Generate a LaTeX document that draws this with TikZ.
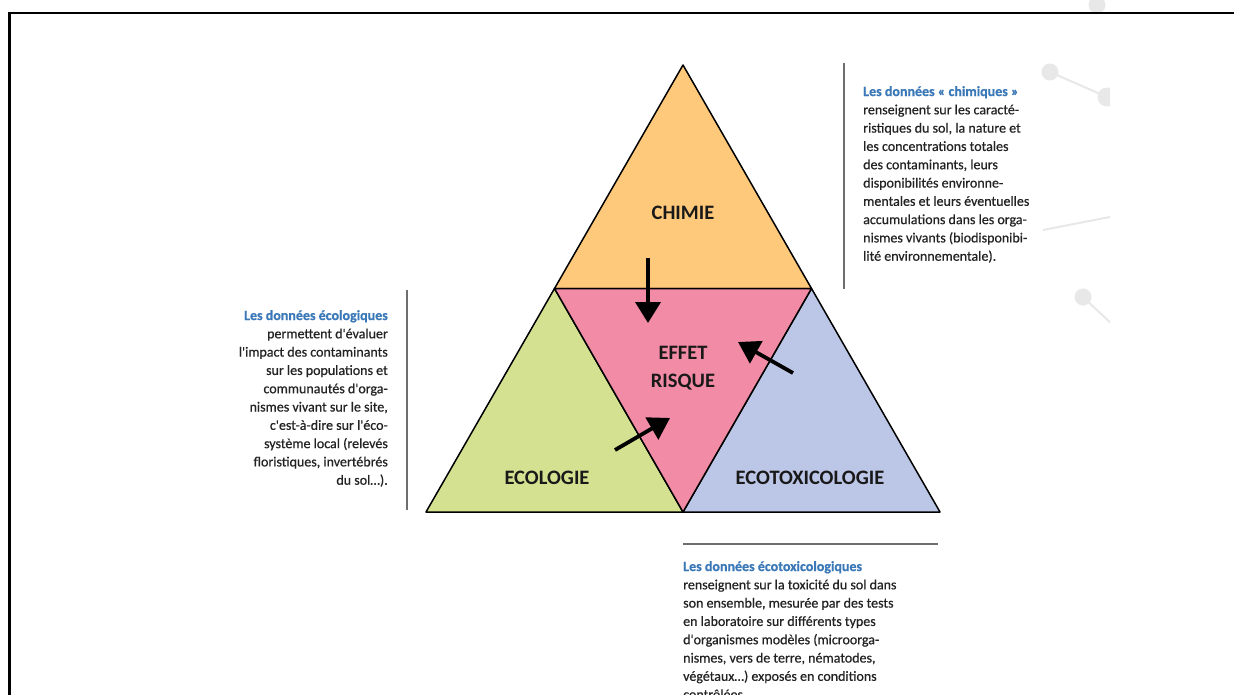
\documentclass[tikz,border=0pt]{standalone}
\usepackage{fontspec}
\setmainfont{Carlito}
\newfontfamily\corpsfont[FakeBold=0.6]{Carlito}
\usetikzlibrary{arrows.meta,positioning}
\definecolor{chimie}{RGB}{255,201,123}
\definecolor{effet}{RGB}{242,139,166}
\definecolor{ecologie}{RGB}{211,225,144}
\definecolor{ecotox}{RGB}{188,198,230}
\definecolor{titre}{RGB}{58,120,184}
\definecolor{corps}{RGB}{35,35,35}
\definecolor{filet}{RGB}{110,110,110}
\definecolor{deco}{RGB}{232,232,232}
\newcommand\entete[1]{{\color{titre}\bfseries #1}}
\tikzset{
    zone/.style={draw=black, line width=1.5pt, line join=round},
    zonelabel/.style={font=\bfseries\fontsize{20.5}{28.5}\selectfont, text=black!90, align=center, inner sep=0pt},
    fleche/.style={line width=3.8pt, -{Triangle[length=21pt,width=25pt]}},
    bloc/.style={font=\corpsfont\fontsize{14}{18.3}\selectfont, text=corps, inner sep=0pt},
    sep/.style={draw=filet, line width=2.4pt},
    decotrait/.style={draw=deco, line width=2pt}
}
\begin{document}
\begin{tikzpicture}[x=1pt,y=-1pt]
    \useasboundingbox (0,0) rectangle (1234,695);
    \fill[white] (0,0) rectangle (1234,695);

    % decor en fond
    \begin{scope}
        \clip (0,0) rectangle (1110,695);
        \draw[decotrait] (1050,72) -- (1107,97);
        \draw[decotrait] (1043,230) -- (1115,216);
        \draw[decotrait] (1083,297) -- (1115,327);
        \fill[deco] (1050,72) circle (8.5);
        \fill[deco] (1107,97) circle (9.5);
        \fill[deco] (1083,297) circle (8.5);
        \fill[deco] (1097,5) circle (8.5);
    \end{scope}

    % cadre
    \draw[line width=2.5pt] (9.5,700) -- (9.5,13) -- (1240,13);

    % sommets
    \coordinate (apex) at (683,65);
    \coordinate (bl) at (426,512);
    \coordinate (br) at (940,512);
    \coordinate (ml) at (554.5,288.5);
    \coordinate (mr) at (811.5,288.5);
    \coordinate (mb) at (683,512);

    \filldraw[zone, fill=chimie] (apex) -- (ml) -- (mr) -- cycle;
    \filldraw[zone, fill=ecologie] (ml) -- (bl) -- (mb) -- cycle;
    \filldraw[zone, fill=ecotox] (mr) -- (mb) -- (br) -- cycle;
    \filldraw[zone, fill=effet] (ml) -- (mr) -- (mb) -- cycle;

    \node[zonelabel] (chim) at (683,213) {CHIMIE};
    \node[zonelabel] (risque) at (683,368) {EFFET\\RISQUE};
    \node[zonelabel] (ecol) at (547,478) {ECOLOGIE};
    \node[zonelabel] (tox) at (810,478) {ECOTOXICOLOGIE};

    % fleches vers le centre
    \coordinate (chimqueue) at (648,258);
    \coordinate (chimtete) at (648,323);
    \coordinate (toxqueue) at (793,373);
    \coordinate (toxtete) at (738,342);
    \coordinate (ecolqueue) at (615,450);
    \coordinate (ecoltete) at (670,418);
    \draw[fleche] (chimqueue) -- (chimtete);
    \draw[fleche] (toxqueue) -- (toxtete);
    \draw[fleche] (ecolqueue) -- (ecoltete);

    % filets
    \draw[sep] (844,63) -- (844,289);
    \draw[sep] (407,290) -- (407,510);
    \draw[sep] (683,544) -- (938,544);

    % textes
    \node[bloc, anchor=north west, align=left] (chimtexte) at (863,86) {\entete{Les données «~chimiques~»}\\
        renseignent sur les caracté-\\
        ristiques du sol, la nature et\\
        les concentrations totales\\
        des contaminants, leurs\\
        disponibilités environne-\\
        mentales et leurs éventuelles\\
        accumulations dans les orga-\\
        nismes vivants (biodisponibi-\\
        lité environnementale).};
    \node[bloc, anchor=north east, align=right] (ecoltexte) at (388,310) {\entete{Les données écologiques}\\
        permettent d'évaluer\\
        l'impact des contaminants\\
        sur les populations et\\
        communautés d'orga-\\
        nismes vivant sur le site,\\
        c'est-à-dire sur l'éco-\\
        système local (relevés\\
        floristiques, invertébrés\\
        du sol…).};
    \node[bloc, anchor=north west, align=left] (toxtexte) at (683,561) {\entete{Les données écotoxicologiques}\\
        renseignent sur la toxicité du sol dans\\
        son ensemble, mesurée par des tests\\
        en laboratoire sur différents types\\
        d'organismes modèles (microorga-\\
        nismes, vers de terre, nématodes,\\
        végétaux…) exposés en conditions\\
        contrôlées.};
\end{tikzpicture}
\end{document}
